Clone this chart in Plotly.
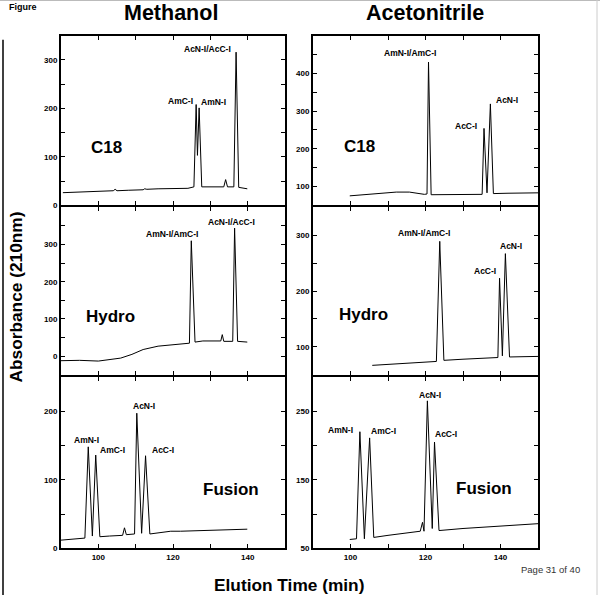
import plotly.graph_objects as go

# ---------------- data ----------------
# Methanol / C18
meoh_c18_t = [90.5, 95, 100, 104.0, 104.5, 105.0, 108, 112.0, 112.4, 113, 116, 120, 124, 125.6, 126.2, 126.55, 127.0, 127.7, 130, 133.6, 134.1, 134.6, 136.3, 136.9, 137.6, 139.9]
meoh_c18_y = [26, 27, 29, 30, 33, 30, 31, 32, 34, 33, 34, 35, 35, 38, 208, 103, 201, 38, 38, 38, 53, 38, 38, 316, 37, 34]
# Acetonitrile / C18
acn_c18_t = [99.8, 104, 108, 112.2, 115.7, 119.7, 120.4, 120.8, 121.5, 125, 130, 135.1, 135.6, 136.4, 137.3, 138.1, 142, 146, 150]
acn_c18_y = [75, 78, 82, 85, 85, 79, 80, 430, 78, 78, 79, 79, 254, 83, 319, 81, 82, 82, 83]
# Methanol / Hydro
meoh_hyd_t = [90, 95, 100, 103, 106, 109, 112, 116, 120, 124.4, 124.9, 125.9, 128, 131, 132.8, 133.2, 133.6, 136.0, 136.5, 137.3, 139.9]
meoh_hyd_y = [-12, -11, -13, -9, -5, 5, 18, 27, 31, 35, 310, 38, 41, 42, 41, 58, 40, 40, 344, 40, 38]
# Acetonitrile / Hydro
acn_hyd_t = [105.8, 110, 115, 120, 122.9, 123.8, 124.9, 130, 135, 139.3, 139.75, 140.5, 141.3, 142.4, 146, 150]
acn_hyd_y = [67, 69, 71, 73, 74, 289, 76, 78, 80, 81, 223, 84, 267, 82, 82.5, 83]
# Methanol / Fusion
meoh_fus_t = [90, 93, 96.4, 97.3, 98.4, 99.3, 100.4, 103, 106.5, 107.0, 107.5, 109.7, 110.3, 111.6, 112.65, 113.8, 117, 119.4, 122, 130, 139.9]
meoh_fus_y = [12, 13, 15, 148, 18, 136, 17, 18, 19, 30, 20, 21, 197, 22, 135, 21, 23, 25, 25, 26, 28]
# Acetonitrile / Fusion
acn_fus_t = [99.8, 101.6, 102.5, 103.7, 105.1, 106.2, 110, 114, 118.6, 119.2, 119.6, 120.5, 121.8, 122.4, 123.6, 130, 140, 145, 150]
acn_fus_y = [63, 64, 220, 64, 211, 66, 69, 72, 75, 88, 75, 265, 79, 205, 76, 79, 83, 84, 86]

x_tickvals = [100, 110, 120, 130, 140]
x_ticktext = ["100", "", "120", "", "140"]

# peak labels: (text, time, absorbance)
meoh_c18_labels = [("AcN-I/AcC-I", 129.3, 322), ("AmC-I", 122.1, 216), ("AmN-I", 130.9, 213)]
acn_c18_labels = [("AmN-I/AmC-I", 115.8, 453), ("AcC-I", 130.8, 260), ("AcN-I", 141.7, 330)]
meoh_hyd_labels = [("AmN-I/AmC-I", 119.8, 329), ("AcN-I/AcC-I", 135.8, 361)]
acn_hyd_labels = [("AmN-I/AmC-I", 119.7, 303.5), ("AcC-I", 135.8, 235), ("AcN-I", 142.9, 280)]
meoh_fus_labels = [("AmN-I", 96.8, 158), ("AmC-I", 103.9, 144), ("AcN-I", 112.2, 207.6), ("AcC-I", 117.4, 144)]
acn_fus_labels = [("AmN-I", 97.4, 222), ("AmC-I", 108.9, 220.7), ("AcN-I", 121.3, 274), ("AcC-I", 125.5, 216)]

column_labels = ["Methanol", "Acetonitrile"]

# ---------------- panels ----------------
panels = [
    dict(t=meoh_c18_t, y=meoh_c18_y, labels=meoh_c18_labels, name="C18", name_pos=(102.1, 120),
         yr=[0, 350], yt=[0, 50, 100, 150, 200, 250, 300], yl=["0", "", "100", "", "200", "", "300"], row=0, col=0),
    dict(t=acn_c18_t, y=acn_c18_y, labels=acn_c18_labels, name="C18", name_pos=(102.3, 206),
         yr=[50, 500], yt=[100, 150, 200, 250, 300, 350, 400, 450], yl=["100", "", "200", "", "300", "", "400", ""], row=0, col=1),
    dict(t=meoh_hyd_t, y=meoh_hyd_y, labels=meoh_hyd_labels, name="Hydro", name_pos=(103.3, 108),
         yr=[-50, 400], yt=[0, 50, 100, 150, 200, 250, 300, 350], yl=["0", "", "100", "", "200", "", "300", ""], row=1, col=0),
    dict(t=acn_hyd_t, y=acn_hyd_y, labels=acn_hyd_labels, name="Hydro", name_pos=(103.6, 158),
         yr=[50, 350], yt=[100, 150, 200, 250, 300], yl=["100", "", "200", "", "300"], row=1, col=1),
    dict(t=meoh_fus_t, y=meoh_fus_y, labels=meoh_fus_labels, name="Fusion", name_pos=(135.5, 86),
         yr=[0, 250], yt=[0, 50, 100, 150, 200], yl=["0", "", "100", "", "200"], row=2, col=0),
    dict(t=acn_fus_t, y=acn_fus_y, labels=acn_fus_labels, name="Fusion", name_pos=(135.7, 136.6),
         yr=[50, 300], yt=[50, 100, 150, 200, 250], yl=["50", "", "150", "", "250"], row=2, col=1),
]

W = H = 600
LW = 2
col_x = [(61, 285), (313, 538)]
# adjacent panels overlap by one line width so the shared borders coincide
row_y = [(36, 207), (209, 378), (380, 553)]

FONT = "Liberation Sans, Arial, Helvetica, sans-serif"

fig = go.Figure()
annotations = []
layout = {}

for i, p in enumerate(panels):
    n = i + 1
    xa = "xaxis" if n == 1 else f"xaxis{n}"
    ya = "yaxis" if n == 1 else f"yaxis{n}"
    xr = "x" if n == 1 else f"x{n}"
    yr = "y" if n == 1 else f"y{n}"
    x0, x1 = col_x[p["col"]]
    y0, y1 = row_y[p["row"]]
    fig.add_trace(go.Scatter(x=p["t"], y=p["y"], mode="lines", xaxis=xr, yaxis=yr,
                             line=dict(color="black", width=1), showlegend=False, hoverinfo="skip"))
    layout[xa] = dict(domain=[x0 / W, x1 / W], anchor=yr, range=[90, 150],
                      showline=True, linecolor="black", linewidth=LW, mirror="ticks",
                      ticks="inside", ticklen=4, tickwidth=1, tickcolor="black",
                      tickvals=x_tickvals, ticktext=x_ticktext,
                      showticklabels=(p["row"] == 2), showgrid=False, zeroline=False,
                      tickfont=dict(family=FONT, size=8, color="black", weight="bold"))
    layout[ya] = dict(domain=[1 - y1 / H, 1 - y0 / H], anchor=xr, range=p["yr"],
                      showline=True, linecolor="black", linewidth=LW, mirror="ticks",
                      ticks="inside", ticklen=4, tickwidth=1, tickcolor="black",
                      tickvals=p["yt"], ticktext=p["yl"], showgrid=False, zeroline=False,
                      tickfont=dict(family=FONT, size=8, color="black", weight="bold"))
    for txt, tx, ty in p["labels"]:
        annotations.append(dict(text=txt, x=tx, y=ty, xref=xr, yref=yr, showarrow=False,
                                xanchor="center", yanchor="middle",
                                font=dict(family=FONT, size=8.5, color="black", weight="bold")))
    annotations.append(dict(text=p["name"], x=p["name_pos"][0], y=p["name_pos"][1], xref=xr, yref=yr,
                            showarrow=False, xanchor="center", yanchor="middle",
                            font=dict(family=FONT, size=17, color="black", weight="bold")))

# column titles
for c, lab in enumerate(column_labels):
    cx = (col_x[c][0] + col_x[c][1]) / 2 / W
    annotations.append(dict(text=lab, x=cx - (0.003 if c == 0 else 0.0), y=1 - 13 / H, xref="paper", yref="paper",
                            showarrow=False, xanchor="center", yanchor="middle",
                            font=dict(family=FONT, size=21.5, color="black", weight="bold")))

annotations += [
    dict(text="Absorbance (210nm)", x=15 / W, y=1 - 300 / H, xref="paper", yref="paper", textangle=-90,
         showarrow=False, xanchor="center", yanchor="middle",
         font=dict(family=FONT, size=17.3, color="black", weight="bold")),
    dict(text="Elution Time (min)", x=289 / W, y=1 - 590 / H, xref="paper", yref="paper",
         showarrow=False, xanchor="center", yanchor="middle",
         font=dict(family=FONT, size=17.3, color="black", weight="bold")),
    dict(text="Figure", x=6.5 / W, y=1 - 7 / H, xref="paper", yref="paper",
         showarrow=False, xanchor="left", yanchor="middle",
         font=dict(family=FONT, size=9, color="black", weight="bold")),
    dict(text="Page 31 of 40", x=582 / W, y=1 - 574 / H, xref="paper", yref="paper",
         showarrow=False, xanchor="right", yanchor="middle",
         font=dict(family=FONT, size=9.5, color="#333333")),
]

shapes = [
    dict(type="line", xref="paper", yref="paper", x0=0, x1=1, y0=1 - 0.5 / H, y1=1 - 0.5 / H,
         line=dict(color="#bbbbbb", width=1)),
    dict(type="line", xref="paper", yref="paper", x0=597 / W, x1=597 / W, y0=0, y1=1,
         line=dict(color="#cccccc", width=1)),
    dict(type="line", xref="paper", yref="paper", x0=3 / W, x1=3 / W, y0=0, y1=1 - 40 / H,
         line=dict(color="black", width=1.5)),
]

fig.update_layout(width=W, height=H, margin=dict(l=0, r=0, t=0, b=0),
                  paper_bgcolor="white", plot_bgcolor="white",
                  annotations=annotations, shapes=shapes, showlegend=False, **layout)

fig.write_html("out.html", config={"displayModeBar": False},
               post_script="document.body.style.margin='0';document.body.style.overflow='hidden';")
